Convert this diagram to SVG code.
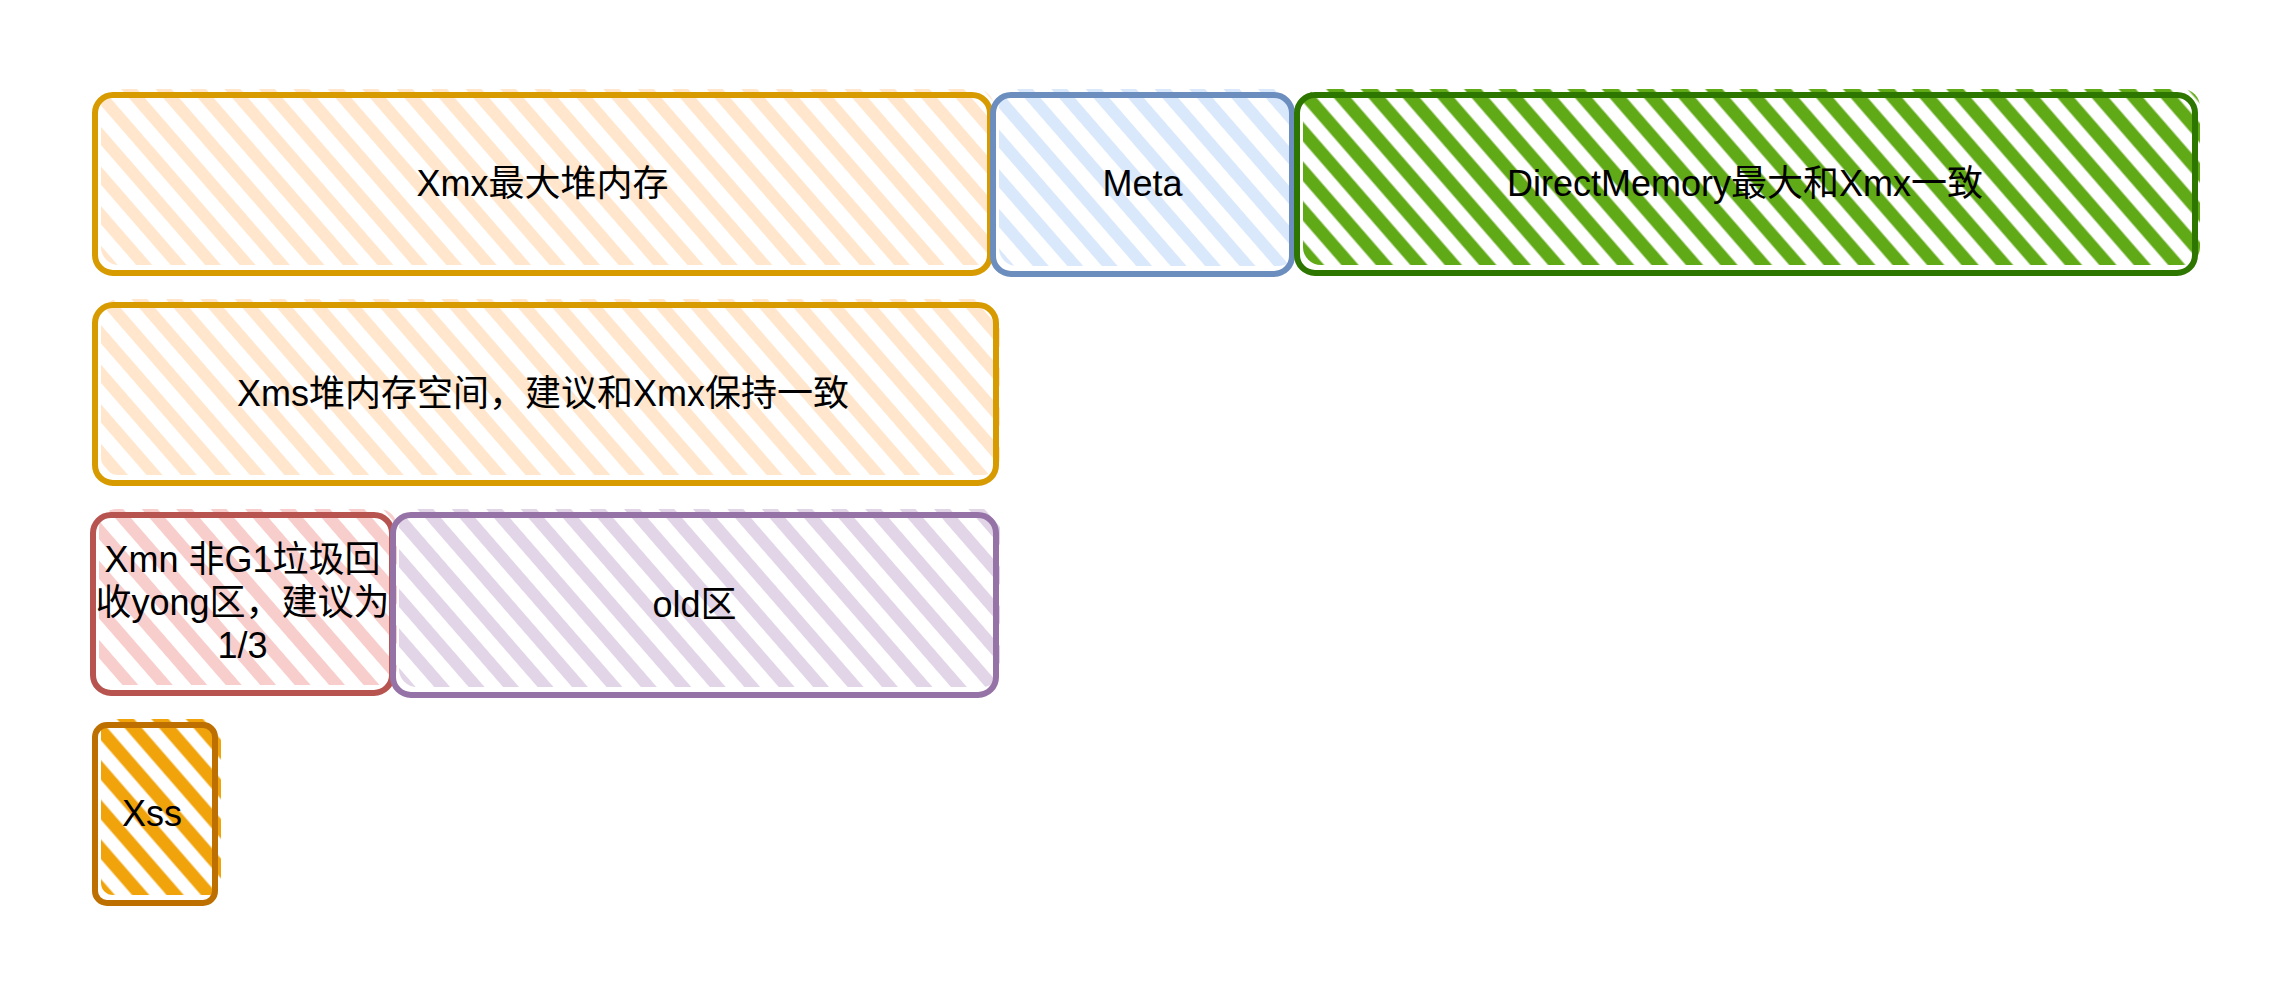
<svg xmlns="http://www.w3.org/2000/svg" width="2286" height="996" viewBox="0 0 2286 996">
<style>
.lbl{font-family:"Liberation Sans","Noto Sans CJK SC",sans-serif;font-size:36px;fill:#000;text-anchor:middle}
.bd{fill:none;stroke-width:6;stroke-linejoin:round}
</style>
<defs>
<pattern id="hOrange" patternUnits="userSpaceOnUse" width="26" height="26" patternTransform="rotate(-41)"><line x1="13" y1="-2" x2="13" y2="28" stroke="#ffe6cc" stroke-width="12"/></pattern>
<pattern id="hBlue" patternUnits="userSpaceOnUse" width="26" height="26" patternTransform="rotate(-41)"><line x1="13" y1="-2" x2="13" y2="28" stroke="#dae8fc" stroke-width="12"/></pattern>
<pattern id="hGreen" patternUnits="userSpaceOnUse" width="26" height="26" patternTransform="rotate(-41)"><line x1="13" y1="-2" x2="13" y2="28" stroke="#60a917" stroke-width="13"/></pattern>
<pattern id="hRed" patternUnits="userSpaceOnUse" width="26" height="26" patternTransform="rotate(-41)"><line x1="13" y1="-2" x2="13" y2="28" stroke="#f8cecc" stroke-width="12"/></pattern>
<pattern id="hPurple" patternUnits="userSpaceOnUse" width="26" height="26" patternTransform="rotate(-41)"><line x1="13" y1="-2" x2="13" y2="28" stroke="#e1d5e7" stroke-width="12"/></pattern>
<pattern id="hAmber" patternUnits="userSpaceOnUse" width="26" height="26" patternTransform="rotate(-41)"><line x1="13" y1="-2" x2="13" y2="28" stroke="#f0a30a" stroke-width="13"/></pattern>
</defs>
<rect width="2286" height="996" fill="#ffffff"/>
<g id="xmx">
<rect x="101" y="89" width="893" height="176" rx="18" fill="url(#hOrange)"/>
<rect class="bd" x="95" y="95" width="895" height="178" rx="18" stroke="#d79b00"/>
<text class="lbl" x="542.5" y="196">Xmx最大堆内存</text>
</g>
<g id="meta">
<rect x="999" y="89" width="297" height="177" rx="18" fill="url(#hBlue)"/>
<rect class="bd" x="993" y="95" width="299" height="179" rx="18" stroke="#6c8ebf"/>
<text class="lbl" x="1142.5" y="196">Meta</text>
</g>
<g id="directmemory">
<rect x="1303" y="89" width="897" height="176" rx="18" fill="url(#hGreen)"/>
<rect class="bd" x="1297" y="95" width="898" height="178" rx="18" stroke="#2d7600"/>
<text class="lbl" x="1745" y="196">DirectMemory最大和Xmx一致</text>
</g>
<g id="xms">
<rect x="101" y="299" width="899" height="176" rx="18" fill="url(#hOrange)"/>
<rect class="bd" x="95" y="305" width="901" height="178" rx="18" stroke="#d79b00"/>
<text class="lbl" x="543" y="406">Xms堆内存空间，建议和Xmx保持一致</text>
</g>
<g id="xmn">
<rect x="99" y="509" width="298" height="176" rx="18" fill="url(#hRed)"/>
<rect class="bd" x="93" y="515" width="299" height="178" rx="18" stroke="#b85450"/>
<text class="lbl" x="242.5" y="572">Xmn 非G1垃圾回</text>
<text class="lbl" x="242.5" y="615">收yong区，建议为</text>
<text class="lbl" x="242.5" y="658">1/3</text>
</g>
<g id="old">
<rect x="399" y="509" width="601" height="178" rx="18" fill="url(#hPurple)"/>
<rect class="bd" x="393" y="515" width="603" height="180" rx="18" stroke="#9673a6"/>
<text class="lbl" x="694.5" y="617">old区</text>
</g>
<g id="xss">
<rect x="101" y="719" width="120" height="176" rx="12" fill="url(#hAmber)"/>
<rect class="bd" x="95" y="725" width="120" height="178" rx="12" stroke="#bd7000"/>
<text class="lbl" x="152" y="826">Xss</text>
</g>
<g id="connectors"></g>
</svg>
